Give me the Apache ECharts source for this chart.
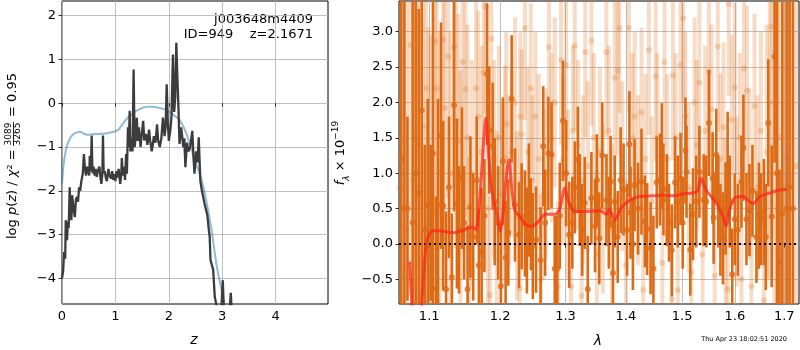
<!DOCTYPE html>
<html>
<head>
<meta charset="utf-8">
<script src="https://cdn.jsdelivr.net/npm/echarts@6/dist/echarts.min.js"></script>
<style>
  html, body { margin: 0; background: #fff; }
  #chart { width: 800px; height: 350px; }
</style>
</head>
<body>
<div id="chart"></div>
<script>
// p(z) panel: redshift grid and log-probability
const pzZ = [0.00, 0.02, 0.04, 0.06, 0.07, 0.085, 0.094, 0.11, 0.125, 0.144, 0.16, 0.175, 0.19, 0.206, 0.22, 0.24, 0.26, 0.28, 0.30, 0.32,
  0.34, 0.36, 0.39, 0.41, 0.43, 0.45, 0.47, 0.49, 0.51, 0.52, 0.54, 0.556, 0.57, 0.59, 0.61, 0.63, 0.65, 0.67, 0.70, 0.72,
  0.737, 0.755, 0.767, 0.78, 0.80, 0.82, 0.84, 0.87, 0.89, 0.92, 0.94, 0.96, 0.98, 1.00, 1.02, 1.04, 1.06, 1.09, 1.11, 1.12,
  1.14, 1.16, 1.18, 1.20, 1.215, 1.235, 1.25, 1.267, 1.28, 1.30, 1.32, 1.341, 1.36, 1.38, 1.40, 1.42, 1.44, 1.47, 1.49, 1.52,
  1.54, 1.57, 1.60, 1.63, 1.65, 1.68, 1.70, 1.72, 1.75, 1.78, 1.80, 1.83, 1.86, 1.89, 1.92, 1.94, 1.96, 1.98, 2.00, 2.03,
  2.05, 2.077, 2.10, 2.12, 2.14, 2.16, 2.18, 2.20, 2.23, 2.25, 2.27, 2.29, 2.31, 2.34, 2.37, 2.40, 2.44, 2.46, 2.48, 2.51,
  2.54, 2.56, 2.59, 2.62, 2.645, 2.67, 2.70, 2.72, 2.75, 2.765, 2.78, 2.80, 2.83, 2.86, 2.89, 2.92, 2.95, 2.98, 3.01, 3.03,
  3.06, 3.10, 3.13, 3.16, 3.18, 3.22];
const pzLog = [-4.00, -3.85, -3.40, -3.55, -2.67, -2.95, -3.13, -2.70, -2.85, -1.92, -2.45, -2.67, -2.10, -2.14, -2.45, -2.60, -2.20, -2.14, -2.25, -1.92,
  -2.00, -1.80, -1.60, -1.16, -1.50, -1.65, -1.45, -1.55, -1.65, -1.20, -1.55, -0.74, -1.60, -1.45, -1.65, -1.50, -1.68, -1.55, -1.45, -1.70,
  -1.84, -1.62, -0.74, -1.60, -1.55, -1.70, -1.78, -1.50, -1.65, -1.72, -1.55, -1.75, -1.62, -1.78, -1.55, -1.70, -1.50, -1.84, -1.62, -1.25,
  -1.65, -1.45, -1.75, -1.16, -1.61, -0.55, -1.00, -0.175, -1.10, -0.80, -1.10, 0.77, -1.00, -0.78, -0.33, -0.86, -0.55, -1.00, -0.75, -0.40,
  -0.85, -0.70, -0.95, -0.60, -0.85, -1.10, -0.95, -0.75, -0.90, -0.48, -0.85, -1.00, -0.80, -0.33, -0.75, -0.55, 0.43, -0.40, -0.86, -0.60,
  -0.30, 1.11, -0.20, 0.13, 1.38, 0.60, -0.10, -0.93, -0.55, -0.75, -1.00, -0.80, -1.46, -0.90, -1.10, -1.00, -0.63, -1.20, -1.61, -1.10,
  -1.35, -0.78, -1.77, -2.00, -2.15, -2.30, -2.45, -2.55, -2.90, -3.05, -3.58, -3.55, -3.80, -4.42, -4.60, -4.80, -5.20, -4.80, -4.04, -4.70,
  -5.30, -5.00, -4.90, -4.33, -4.80, -5.50];

// smooth prior-like curve
const smZ = [0.00, 0.03, 0.06, 0.10, 0.15, 0.20, 0.27, 0.34, 0.40, 0.47, 0.55, 0.62, 0.72, 0.82, 0.90, 1.00, 1.06, 1.12, 1.18, 1.25,
  1.32, 1.40, 1.50, 1.60, 1.70, 1.80, 1.90, 2.00, 2.10, 2.20, 2.28, 2.36, 2.44, 2.52, 2.60, 2.70, 2.80, 2.90, 3.00, 3.05, 3.10, 3.20];
const smLog = [-1.84, -1.40, -1.15, -0.95, -0.80, -0.72, -0.67, -0.65, -0.69, -0.72, -0.71, -0.70, -0.70, -0.69, -0.67, -0.64, -0.60, -0.50, -0.40, -0.31,
  -0.24, -0.17, -0.11, -0.08, -0.08, -0.10, -0.13, -0.19, -0.28, -0.38, -0.55, -0.80, -1.12, -1.42, -1.69, -2.22, -2.90, -3.74, -4.34, -4.65, -5.00, -5.60];

// spectrum panel: strong beam
const darkLam = [1.063, 1.067, 1.071, 1.078, 1.082, 1.086, 1.090, 1.094, 1.098, 1.102, 1.105, 1.109, 1.112, 1.116, 1.119, 1.123, 1.127, 1.131, 1.134, 1.138,
  1.141, 1.145, 1.148, 1.153, 1.157, 1.161, 1.166, 1.169, 1.173, 1.177, 1.181, 1.184, 1.189, 1.192, 1.197, 1.201, 1.204, 1.208, 1.212, 1.217,
  1.222, 1.228, 1.232, 1.237, 1.240, 1.243, 1.246, 1.249, 1.254, 1.261, 1.265, 1.268, 1.273, 1.278, 1.283, 1.287, 1.291, 1.296, 1.301, 1.306,
  1.311, 1.315, 1.320, 1.323, 1.327, 1.331, 1.336, 1.342, 1.348, 1.351, 1.355, 1.360, 1.367, 1.371, 1.374, 1.378, 1.381, 1.386, 1.391, 1.396,
  1.402, 1.406, 1.408, 1.412, 1.415, 1.421, 1.427, 1.433, 1.437, 1.443, 1.448, 1.454, 1.460, 1.463, 1.466, 1.472, 1.476, 1.481, 1.487, 1.492,
  1.497, 1.501, 1.506, 1.508, 1.515, 1.520, 1.526, 1.532, 1.540, 1.545, 1.550, 1.557, 1.559, 1.564, 1.568, 1.572, 1.577, 1.582, 1.586, 1.590,
  1.595, 1.600, 1.606, 1.613, 1.617, 1.623, 1.629, 1.635, 1.643, 1.648, 1.652, 1.658, 1.662, 1.667, 1.674, 1.680, 1.685, 1.690, 1.696, 1.705,
  1.711, 1.718];
const darkFlux = [1.2, 0.5, 0.5, 0.3, 1.0, 0.72, 1.89, 0.2, 0.55, 0.3, 1.28, -0.63, 0.55, 1.53, 0.54, -0.64, 0.80, -0.47, 1.96, 0.57,
  0.2, 0.93, 0.3, -0.64, 0.52, 0.1, 0.9, -0.3, -0.11, 0.4, 2.40, 1.61, 1.38, 0.6, 0.3, -0.6, 1.17, -0.19, 0.16, 2.05,
  0.55, 0.13, 0.39, 0.29, 0.05, 0.62, 0.28, -0.03, 0.06, -0.23, 1.38, 0.30, 1.28, 1.26, -0.35, -0.35, 0.4, 1.74, 1.0, 0.13,
  0.3, 0.8, 1.19, 0.62, 0.2, 0.58, -0.64, 0.65, 0.25, 0.9, 0.08, 1.25, 0.62, 0.3, 0.88, -0.41, 0.6, 0.1, 0.9, 0.77,
  0.2, 1.41, 0.44, 0.0, 0.83, 0.5, 0.88, 0.32, 0.21, -0.06, -0.35, 0.87, 0.91, 1.24, 0.77, 0.62, 0.3, -0.09, 0.87, 0.6,
  0.92, 0.3, 1.32, 1.02, -0.08, 0.42, 0.60, 1.02, 0.62, 0.6, 1.71, 0.93, 0.37, 1.26, 0.6, 0.2, 0.08, 0.5, 1.12, 0.6,
  -0.43, 0.35, 0.2, 0.88, 1.36, 0.35, 0.48, 0.75, 0.1, 0.4, 0.35, 0.45, 0.1, 1.71, 0.39, 2.65, 1.0, -0.25, 0.43, 0.5,
  0.8, 0.5];
const darkErr = [4, 5, 1.3, 3.5, 4, 2.6, 3, 1.2, 1.5, 1.1, 2.2, 1.3, 1.5, 1.6, 1.2, 1.1, 1.0, 0.9, 1.5, 1.2,
  0.9, 1.0, 0.8, 0.9, 1.0, 0.9, 0.9, 0.8, 0.9, 0.8, 1.0, 0.9, 0.9, 0.9, 0.8, 0.9, 0.9, 0.8, 0.75, 0.9,
  0.8, 0.75, 0.75, 0.75, 0.75, 0.8, 0.65, 0.75, 0.75, 0.75, 0.85, 0.75, 0.8, 0.75, 0.75, 0.75, 0.75, 0.85, 0.75, 0.75,
  0.65, 0.65, 0.75, 0.65, 0.65, 0.65, 0.75, 0.65, 0.65, 0.65, 0.65, 0.75, 0.65, 0.65, 0.65, 0.75, 0.65, 0.65, 0.75, 0.65,
  0.65, 0.75, 0.65, 0.65, 0.65, 0.65, 0.75, 0.65, 0.65, 0.65, 0.75, 0.65, 0.65, 0.75, 0.65, 0.65, 0.55, 0.65, 0.65, 0.65,
  0.65, 0.65, 0.75, 0.65, 0.65, 0.65, 0.65, 0.65, 0.65, 0.65, 0.75, 0.65, 0.65, 0.65, 0.65, 0.65, 0.65, 0.65, 0.75, 0.65,
  0.65, 0.65, 0.65, 0.65, 0.75, 0.65, 0.65, 0.65, 0.65, 0.75, 0.65, 0.75, 0.75, 0.9, 1.0, 1.5, 3, 1.3, 5, 5,
  5, 5];

// spectrum panel: faint beam
const lightLam = [1.061, 1.065, 1.070, 1.075, 1.079, 1.083, 1.087, 1.092, 1.096, 1.099, 1.102, 1.108, 1.110, 1.114, 1.119, 1.121, 1.126, 1.129, 1.134, 1.137,
  1.140, 1.143, 1.146, 1.150, 1.153, 1.155, 1.159, 1.165, 1.168, 1.173, 1.176, 1.179, 1.182, 1.185, 1.187, 1.191, 1.195, 1.198, 1.203, 1.207,
  1.209, 1.213, 1.217, 1.222, 1.225, 1.229, 1.230, 1.232, 1.237, 1.241, 1.246, 1.248, 1.253, 1.258, 1.261, 1.266, 1.269, 1.274, 1.278, 1.283,
  1.288, 1.293, 1.296, 1.301, 1.304, 1.309, 1.312, 1.315, 1.320, 1.326, 1.328, 1.332, 1.336, 1.342, 1.346, 1.351, 1.356, 1.361, 1.367, 1.371,
  1.376, 1.381, 1.386, 1.389, 1.394, 1.400, 1.405, 1.411, 1.415, 1.421, 1.427, 1.430, 1.434, 1.440, 1.445, 1.452, 1.455, 1.464, 1.468, 1.473,
  1.481, 1.483, 1.488, 1.492, 1.497, 1.502, 1.506, 1.512, 1.517, 1.523, 1.527, 1.532, 1.538, 1.543, 1.550, 1.555, 1.561, 1.567, 1.572, 1.578,
  1.582, 1.586, 1.588, 1.594, 1.600, 1.604, 1.610, 1.613, 1.618, 1.624, 1.629, 1.633, 1.639, 1.645, 1.652, 1.658, 1.664, 1.670, 1.674, 1.680,
  1.686, 1.692, 1.699, 1.707, 1.715, 1.725];
const lightFlux = [0.8, 1.0, 0.2, 2.81, 0.9, 1.5, 1.4, 1.66, 2.2, 0.56, 0.75, 2.86, 2.2, 1.0, 2.89, 1.92, 2.65, 1.0, 2.78, 1.74,
  1.45, 0.65, 2.57, 2.19, 1.5, -0.27, 1.0, 2.2, 1.8, 1.3, 2.42, 3.35, 0.5, -0.72, 2.9, 1.2, 0.3, 1.5, 0.7, 1.22,
  1.7, 0.9, 1.3, 2.0, 0.4, -0.63, 1.80, 1.55, 3.05, 1.3, 2.2, 0.9, 1.8, 1.2, -0.5, 0.7, 1.0, 2.78, 1.5, 2.0,
  -0.6, 2.6, 1.2, 2.53, 0.7, -0.6, 1.6, 2.8, 1.4, -0.73, 0.9, 2.71, 1.1, 2.87, 1.5, -0.15, 1.3, 0.5, 2.71, 1.6,
  0.2, 2.35, 2.45, 3.05, 1.1, -0.3, 3.06, 1.5, 1.8, 0.9, 1.86, -0.65, 1.2, 2.74, 0.6, 2.37, 1.5, -0.27, 2.57, 1.2,
  -0.78, 2.38, 1.5, -0.65, 2.53, 3.19, 1.8, 0.8, -0.4, 2.0, 1.4, 2.28, -0.15, 1.6, 2.43, 1.9, -0.45, 2.79, 1.2, 1.65,
  0.3, -0.64, 3.39, 1.75, 2.21, 0.6, 1.5, -0.5, 2.48, 2.17, 1.0, -0.6, 1.95, 0.8, 1.6, -0.8, 1.3, 2.0, 3.07, 1.0,
  0.5, 1.5, 0.8, 1.2, 0.9, 1.1];
const lightErr = [4, 4, 4, 3.5, 3.5, 3, 3, 2.5, 2.5, 2.5, 2.2, 2.5, 2, 2, 2, 2, 2, 2, 2, 1.8,
  1.8, 1.8, 1.8, 1.8, 1.6, 1.5, 1.6, 1.5, 1.5, 1.5, 1.5, 1.5, 1.4, 1.4, 1.5, 1.4, 1.3, 1.3, 1.3, 1.3,
  1.3, 1.2, 1.2, 1.2, 1.2, 1.2, 1.2, 1.2, 1.3, 1.2, 1.2, 1.2, 1.2, 1.2, 1.2, 1.2, 1.2, 1.2, 1.2, 1.2,
  1.2, 1.2, 1.2, 1.2, 1.2, 1.2, 1.2, 1.2, 1.2, 1.2, 1.2, 1.2, 1.2, 1.2, 1.2, 1.2, 1.2, 1.2, 1.2, 1.2,
  1.2, 1.2, 1.2, 1.2, 1.2, 1.2, 1.2, 1.2, 1.2, 1.2, 1.2, 1.2, 1.2, 1.2, 1.2, 1.2, 1.2, 1.2, 1.2, 1.2,
  1.2, 1.2, 1.2, 1.2, 1.2, 1.2, 1.2, 1.2, 1.2, 1.2, 1.2, 1.2, 1.2, 1.2, 1.2, 1.2, 1.2, 1.2, 1.2, 1.2,
  1.2, 1.2, 1.3, 1.2, 1.2, 1.2, 1.2, 1.2, 1.2, 1.2, 1.2, 1.2, 1.3, 1.3, 1.4, 1.5, 1.8, 2.5, 3, 4,
  4, 4, 4, 4, 4, 4];

// best-fit model
const modelLam = [1.074, 1.077, 1.079, 1.085, 1.089, 1.092, 1.096, 1.101, 1.108, 1.119, 1.132, 1.146, 1.160, 1.165, 1.169, 1.172, 1.176, 1.179, 1.182, 1.187,
  1.195, 1.200, 1.204, 1.210, 1.213, 1.217, 1.222, 1.229, 1.239, 1.246, 1.256, 1.269, 1.283, 1.291, 1.299, 1.304, 1.315, 1.333, 1.356, 1.367,
  1.372, 1.381, 1.392, 1.407, 1.424, 1.448, 1.466, 1.484, 1.502, 1.520, 1.529, 1.535, 1.545, 1.564, 1.577, 1.583, 1.590, 1.600, 1.616, 1.629,
  1.636, 1.650, 1.670, 1.688, 1.705];
const modelFlux = [-0.25, -0.9, -1.3, -1.5, -1.0, -0.5, -0.01, 0.155, 0.19, 0.18, 0.16, 0.19, 0.24, 0.20, 0.5, 0.86, 1.47, 1.78, 1.42, 0.80,
  0.42, 0.18, 0.42, 1.03, 1.19, 0.80, 0.47, 0.39, 0.27, 0.25, 0.30, 0.42, 0.42, 0.50, 0.79, 0.62, 0.46, 0.46, 0.47, 0.42,
  0.49, 0.34, 0.51, 0.62, 0.67, 0.68, 0.69, 0.68, 0.71, 0.72, 0.76, 0.93, 0.76, 0.58, 0.39, 0.25, 0.48, 0.65, 0.67, 0.60,
  0.57, 0.67, 0.72, 0.76, 0.77];

const zTicks = [0, 1, 2, 3, 4];
const logTicks = [-4, -3, -2, -1, 0, 1, 2];
const lamTicks = [1.1, 1.2, 1.3, 1.4, 1.5, 1.6, 1.7];
const fluxTicks = [-0.5, 0, 0.5, 1.0, 1.5, 2.0, 2.5, 3.0];

const FONT = 'DejaVu Sans';
const ORANGE = '#dd6b16';

const chart = echarts.init(document.getElementById('chart'));

const zip = (xs, ys, es) => xs.map((x, i) => es ? [x, ys[i], es[i]] : [x, ys[i]]);
const minus = v => String(v).replace('-', '\u2212');

function axisCommon(ticks, fmt) {
  return {
    axisLine: { show: false },
    axisTick: { show: true, length: 3.5, customValues: ticks, lineStyle: { color: '#000', width: 0.8 } },
    axisLabel: { customValues: ticks, formatter: fmt, color: '#000', fontFamily: FONT, fontSize: 13, margin: 6 },
    splitLine: { show: true, lineStyle: { color: '#b0b0b0', width: 0.8 } },
  };
}

// vertical error bar drawn through the axis scales
function errBar(color, opacity, w) {
  return function (params, api) {
    const x = api.value(0), y = api.value(1), e = api.value(2);
    const top = api.coord([x, y + e]);
    const bot = api.coord([x, y - e]);
    const shape = echarts.graphic.clipRectByRect(
      { x: top[0] - w / 2, y: top[1], width: w, height: bot[1] - top[1] },
      { x: params.coordSys.x, y: params.coordSys.y, width: params.coordSys.width, height: params.coordSys.height }
    );
    return shape && { type: 'rect', shape: shape, style: { fill: color, opacity: opacity } };
  };
}

const frame = { show: true, borderColor: '#000', borderWidth: 1, backgroundColor: 'transparent' };

chart.setOption({
  animation: false,
  backgroundColor: '#fff',
  grid: [
    Object.assign({ left: 62, top: 1, width: 266, height: 303 }, frame),
    Object.assign({ left: 399, top: 1, width: 400, height: 303 }, frame),
  ],
  xAxis: [
    Object.assign({ type: 'value', gridIndex: 0, min: 0, max: 4.98 }, axisCommon(zTicks, minus)),
    Object.assign({ type: 'log', logBase: 10, gridIndex: 1, min: 1.06, max: 1.731 }, axisCommon(lamTicks, v => Number(v).toFixed(1))),
  ],
  yAxis: [
    Object.assign({ type: 'value', gridIndex: 0, min: -4.584, max: 2.334 }, axisCommon(logTicks, minus)),
    Object.assign({ type: 'value', gridIndex: 1, min: -0.848, max: 3.433 }, axisCommon(fluxTicks, v => minus(Number(v).toFixed(1)))),
  ],
  series: [
    {
      type: 'line', xAxisIndex: 0, yAxisIndex: 0, data: zip(smZ, smLog), showSymbol: false, smooth: 0.3,
      lineStyle: { color: 'rgba(31,119,180,0.5)', width: 2 }, z: 2,
    },
    {
      type: 'line', xAxisIndex: 0, yAxisIndex: 0, data: zip(pzZ, pzLog), showSymbol: false,
      lineStyle: { color: '#3c3c3c', width: 2.3 }, z: 3,
    },
    {
      type: 'custom', xAxisIndex: 1, yAxisIndex: 1, data: zip(lightLam, lightFlux, lightErr),
      encode: { x: 0, y: 1 }, renderItem: errBar(ORANGE, 0.24, 4), z: 2,
    },
    {
      type: 'scatter', xAxisIndex: 1, yAxisIndex: 1, data: zip(lightLam, lightFlux), symbolSize: 6,
      itemStyle: { color: ORANGE, opacity: 0.24 }, z: 3,
    },
    {
      type: 'custom', xAxisIndex: 1, yAxisIndex: 1, data: zip(darkLam, darkFlux, darkErr),
      encode: { x: 0, y: 1 }, renderItem: errBar(ORANGE, 1, 2.6), z: 4,
    },
    {
      type: 'scatter', xAxisIndex: 1, yAxisIndex: 1, data: zip(darkLam, darkFlux), symbolSize: 6,
      itemStyle: { color: ORANGE }, z: 5,
    },
    {
      type: 'line', xAxisIndex: 1, yAxisIndex: 1, data: zip(modelLam, modelFlux), showSymbol: false, smooth: 0.3,
      lineStyle: { color: 'rgba(255,35,25,0.72)', width: 3 }, z: 6,
      markLine: {
        silent: true, symbol: 'none', label: { show: false },
        lineStyle: { color: '#000', type: [2, 3], width: 2 },
        data: [{ yAxis: 0 }],
      },
    },
  ],
  graphic: [
    {
      type: 'text', x: 313, y: 19.5,
      style: { text: 'j003648m4409', fill: '#000', fontFamily: FONT, fontSize: 13, align: 'right', textAlign: 'right', verticalAlign: 'middle', textVerticalAlign: 'middle' },
    },
    {
      type: 'text', x: 313, y: 34.5,
      style: { text: 'ID=949    z=2.1671', fill: '#000', fontFamily: FONT, fontSize: 13, align: 'right', textAlign: 'right', verticalAlign: 'middle', textVerticalAlign: 'middle' },
    },
    {
      type: 'group', x: 13, y: 239, rotation: Math.PI / 2,
      children: [
        {
          type: 'text', x: 0, y: 0,
          style: {
            text: '{n|log }{i|p}{n|(}{i|z}{n|) / }{i|χ}{n|² =}',
            rich: {
              n: { fontFamily: FONT, fontSize: 13, fill: '#000' },
              i: { fontFamily: FONT, fontSize: 13, fontStyle: 'italic', fill: '#000' },
            },
            align: 'left', textAlign: 'left', verticalAlign: 'middle', textVerticalAlign: 'middle',
          },
        },
        {
          type: 'text', x: 105, y: -4,
          style: { text: '3089', fill: '#000', fontFamily: FONT, fontSize: 9, align: 'center', textAlign: 'center', verticalAlign: 'middle', textVerticalAlign: 'middle' },
        },
        { type: 'line', shape: { x1: 93, y1: 0.5, x2: 117, y2: 0.5 }, style: { stroke: '#000', lineWidth: 0.8 } },
        {
          type: 'text', x: 105, y: 5,
          style: { text: '3265', fill: '#000', fontFamily: FONT, fontSize: 9, align: 'center', textAlign: 'center', verticalAlign: 'middle', textVerticalAlign: 'middle' },
        },
        {
          type: 'text', x: 122, y: 0,
          style: { text: '= 0.95', fill: '#000', fontFamily: FONT, fontSize: 13, align: 'left', textAlign: 'left', verticalAlign: 'middle', textVerticalAlign: 'middle' },
        },
      ],
    },
    {
      type: 'text', x: 341, y: 153, rotation: Math.PI / 2,
      style: {
        text: '{i|f}{sub|λ}{n| × 10}{sup|−19}',
        rich: {
          n: { fontFamily: FONT, fontSize: 13, fill: '#000', lineHeight: 20 },
          i: { fontFamily: FONT, fontSize: 13, fontStyle: 'italic', fill: '#000', lineHeight: 20 },
          sub: { fontFamily: FONT, fontSize: 9, fontStyle: 'italic', fill: '#000', verticalAlign: 'bottom', lineHeight: 20 },
          sup: { fontFamily: FONT, fontSize: 9, fill: '#000', verticalAlign: 'top', lineHeight: 20 },
        },
        align: 'center', textAlign: 'center', verticalAlign: 'middle', textVerticalAlign: 'middle',
      },
    },
    {
      type: 'text', x: 194, y: 340,
      style: { text: 'z', fill: '#000', fontFamily: FONT, fontSize: 14, fontStyle: 'italic', align: 'center', textAlign: 'center', verticalAlign: 'middle', textVerticalAlign: 'middle' },
    },
    {
      type: 'text', x: 598, y: 341,
      style: { text: 'λ', fill: '#000', fontFamily: FONT, fontSize: 14, fontStyle: 'italic', align: 'center', textAlign: 'center', verticalAlign: 'middle', textVerticalAlign: 'middle' },
    },
    {
      type: 'text', x: 787, y: 339.5,
      style: { text: 'Thu Apr 23 18:02:51 2020', fill: '#000', fontFamily: FONT, fontSize: 6.5, align: 'right', textAlign: 'right', verticalAlign: 'middle', textVerticalAlign: 'middle' },
    },
  ],
});
</script>
</body>
</html>
